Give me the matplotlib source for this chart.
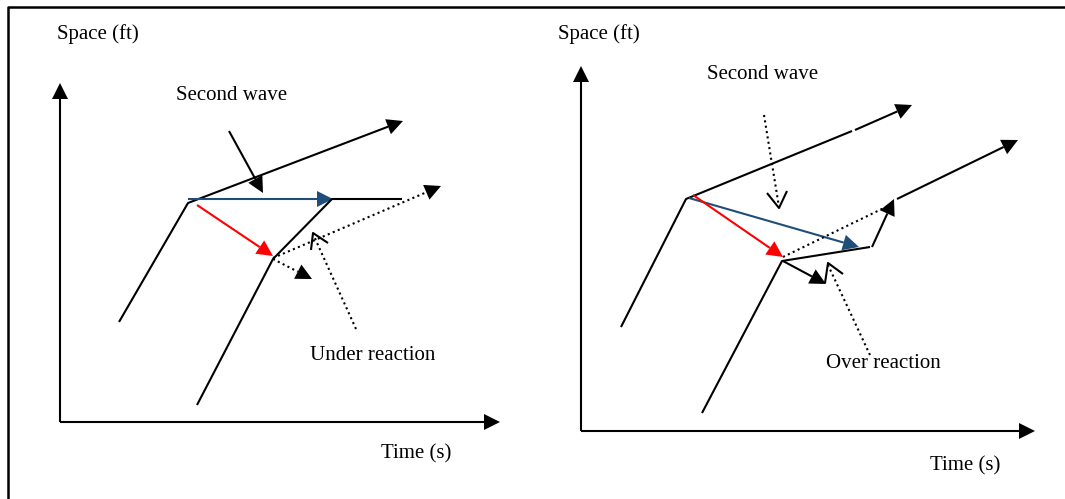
import matplotlib.pyplot as plt
import numpy as np

W, H = 1065, 499

# frame
frame = [(1065, 7), (8, 7), (8, 499)]

# left panel: under reaction
left_axis_y = [(60, 422), (60, 83)]
left_axis_x = [(60, 422), (500, 422)]
left_car1 = [(119, 322), (188, 203), (403, 121)]
left_car2 = [(197, 405), (273, 259), (332, 199), (402, 199)]
left_blue = [(188, 199), (333, 199)]
left_red = [(197, 205), (273, 256)]
left_wave = [(229, 131), (263, 193)]
left_dot_up = [(273, 258), (441, 186)]
left_dot_down = [(273, 259), (312, 279)]
left_pointer = [(356, 329), (313, 234)]
left_chevron = [(311, 250), (313, 233), (328, 243)]
left_labels = [("Space (ft)", 57, 34), ("Second wave", 176, 95),
               ("Under reaction", 310, 356), ("Time (s)", 381, 454)]

# right panel: over reaction
right_axis_y = [(581, 431), (581, 66)]
right_axis_x = [(581, 431), (1035, 431)]
right_car1_a = [(621, 327), (686, 199), (852, 131)]
right_car1_b = [(855, 130), (912, 105)]
right_car2_a = [(702, 413), (782, 261), (870, 247)]
right_car2_b = [(872, 247), (894, 199)]
right_car2_c = [(897, 199), (1018, 140)]
right_blue = [(689, 198), (859, 247)]
right_red = [(693, 195), (783, 257)]
right_wave = [(764, 115), (779, 207)]
right_wave_v = [(767, 193), (779, 208), (787, 191)]
right_dot = [(783, 257), (890, 205)]
right_short = [(783, 261), (826, 284)]
right_pointer = [(870, 355), (828, 265)]
right_chevron = [(825, 283), (828, 263), (843, 274)]
right_labels = [("Space (ft)", 558, 34), ("Second wave", 707, 74),
                ("Over reaction", 826, 363), ("Time (s)", 930, 466)]

BLUE = '#1f4e79'
RED = '#ff0000'
DOT = (0, (1, 1.6))


def line(pts, color='k', ls='-', lw=1.5):
    x, y = zip(*pts)
    ax.plot(x, y, color=color, ls=ls, lw=lw, solid_capstyle='butt', dash_capstyle='butt')


# 画带实心箭头的线
def arrow(pts, color='k', ls='-', lw=1.5, length=16, half=8):
    pts = [np.array(p, float) for p in pts]
    p0, p1 = pts[-2], pts[-1]
    d = (p1 - p0) / np.linalg.norm(p1 - p0)
    n = np.array([-d[1], d[0]])
    base = p1 - d * length
    line([tuple(p) for p in pts[:-1]] + [tuple(base)], color, ls, lw)
    tri = np.array([p1, base + n * half, base - n * half])
    ax.fill(tri[:, 0], tri[:, 1], color=color, lw=0)


fig = plt.figure(figsize=(W / 100, H / 100), dpi=100)
ax = fig.add_axes([0, 0, 1, 1])
ax.set_xlim(0, W)
ax.set_ylim(H, 0)
ax.axis('off')

line(frame, lw=1.8)

# left
arrow(left_axis_y)
arrow(left_axis_x)
arrow(left_car1)
line(left_car2)
arrow(left_blue, color=BLUE)
arrow(left_red, color=RED)
arrow(left_wave)
arrow(left_dot_up, ls=DOT)
arrow(left_dot_down, ls=DOT)
line(left_pointer, ls=DOT)
line(left_chevron)

# right
arrow(right_axis_y)
arrow(right_axis_x)
line(right_car1_a)
arrow(right_car1_b)
line(right_car2_a)
arrow(right_car2_b)
arrow(right_car2_c)
arrow(right_blue, color=BLUE)
arrow(right_red, color=RED)
line(right_wave, ls=DOT)
line(right_wave_v)
line(right_dot, ls=DOT)
arrow(right_short)
line(right_pointer, ls=DOT)
line(right_chevron)

for s, x, y in left_labels + right_labels:
    ax.text(x, y, s, ha='left', va='center', fontsize=15, family='Liberation Serif')

fig.savefig('out.png', dpi=100)
